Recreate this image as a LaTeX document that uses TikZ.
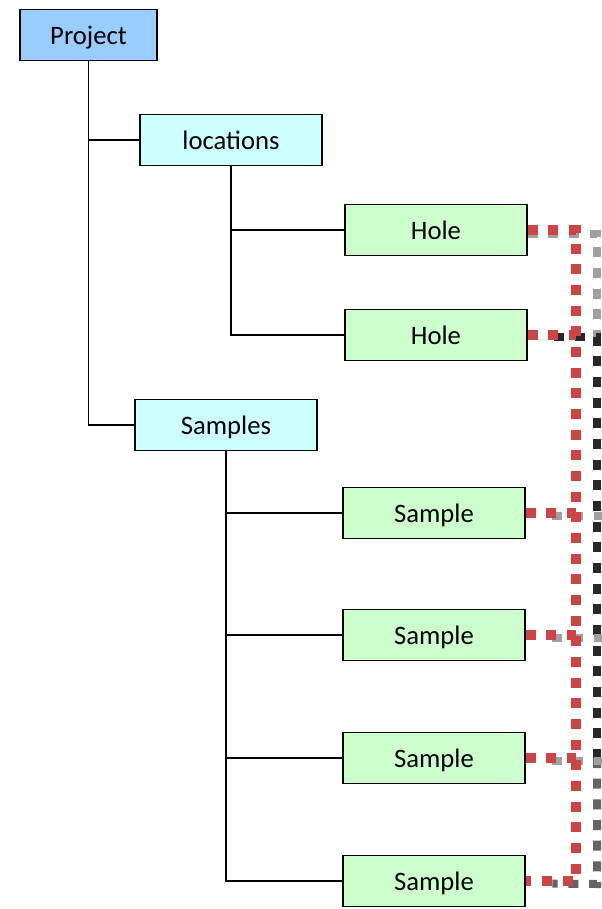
\documentclass[tikz,border=0pt]{standalone}
\usepackage{fontspec}
\setmainfont{Carlito}
\definecolor{projblue}{RGB}{153,204,255}
\definecolor{groupcyan}{RGB}{204,255,255}
\definecolor{leafgreen}{RGB}{204,255,204}
\definecolor{linkred}{RGB}{204,68,68}
\definecolor{linkgray}{RGB}{160,160,160}
\definecolor{linkdark}{RGB}{40,40,40}
\definecolor{linkmid}{RGB}{100,100,100}
\tikzset{every picture/.style={line width=0.75pt}}
\tikzset{
  box/.style={draw=black, line width=1.1pt, minimum height=38.5pt, inner sep=0pt, text height=14.5pt, text depth=0pt, font=\fontsize{20}{23}\selectfont},
  projbox/.style={box, fill=projblue, minimum width=102.75pt},
  groupbox/.style={box, fill=groupcyan, minimum width=136.5pt},
  leafbox/.style={box, fill=leafgreen, minimum width=136.5pt},
  tree/.style={line width=1.1pt},
  redlink/.style={draw=linkred, line width=7.5pt, dash pattern=on 7.5pt off 8pt},
  graylink/.style={line width=6pt, dash pattern=on 7.5pt off 8pt},
}

\begin{document}
\begin{tikzpicture}[x=0.75pt,y=0.75pt,yscale=-1,xscale=1]
\useasboundingbox (0,0) rectangle (602,909);

% Text Node
\node [projbox] (project) at (88.5,35) {Project};
% Text Node
\node [groupbox] (locations) at (231,140) {locations};
\node [groupbox] (samples) at (226,425) {Samples};
% Text Node
\node [leafbox] (hole1) at (436,230) {Hole};
\node [leafbox] (hole2) at (436,335) {Hole};
% Text Node
\node [leafbox] (sample1) at (434,513) {Sample};
\node [leafbox] (sample2) at (434,635) {Sample};
\node [leafbox] (sample3) at (434,758) {Sample};
\node [leafbox] (sample4) at (434,881) {Sample};

%Straight Lines
\draw [tree] (project.south) |- (locations.west);
\draw [tree] (project.south) |- (samples.west);
\draw [tree] (locations.south) |- (hole1.west);
\draw [tree] (locations.south) |- (hole2.west);
\foreach \s in {sample1,sample2,sample3,sample4}
  \draw [tree] (samples.south) |- (\s.west);

% bus lines on the right
\coordinate (gtop) at (597,234);
\coordinate (gmid) at (597,337);
\coordinate (gend) at (597,758);
\coordinate (gbot) at (597,884);
\coordinate (rtop) at (576,230);
\coordinate (rbot) at (576,881);

%Dashed Lines
\draw [graylink, draw=linkgray] ([yshift=3pt]hole1.east) -- (gtop) -- (gmid);
\draw [graylink, draw=linkdark] ([xshift=20pt,yshift=1.5pt]hole2.east) -- (gmid) -- (gend);
\draw [graylink, draw=linkmid] (gend) -- (gbot) -- ([xshift=20pt,yshift=2pt]sample4.east);
\foreach \s in {sample1,sample2,sample3}
  \draw [graylink, draw=linkgray] ([xshift=20pt,yshift=2pt]\s.east) -- ([yshift=2pt]\s.east -| gtop) -- ++(10,0);

%Dashed Lines
\draw [redlink] (hole1.east) -- (rtop) -- (rbot) -- (sample4.east);
\foreach \s in {hole2,sample1,sample2,sample3}
  \draw [redlink] (\s.east) -- (\s.east -| rtop);

\end{tikzpicture}
\end{document}
